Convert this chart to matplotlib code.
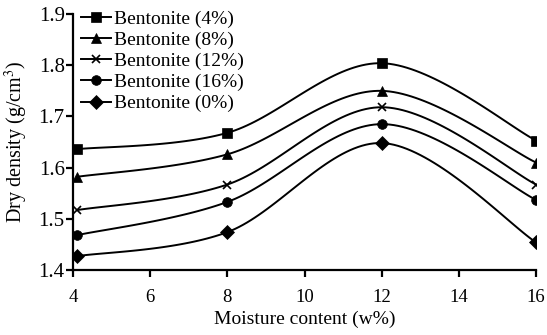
import numpy as np
import matplotlib
matplotlib.use('Agg')
import matplotlib.pyplot as plt

moisture = [4.1, 8, 12, 16]
labels = ['Bentonite (4%)', 'Bentonite (8%)', 'Bentonite (12%)',
          'Bentonite (16%)', 'Bentonite (0%)']
markers = ['s', '^', 'x', 'o', 'D']
density = [
    [1.636, 1.668, 1.804, 1.653],
    [1.582, 1.626, 1.750, 1.610],
    [1.517, 1.567, 1.718, 1.567],
    [1.468, 1.533, 1.685, 1.537],
    [1.427, 1.474, 1.648, 1.454],
]


def smooth(x, y, n=40):
    # Excel-style smoothed line: cubic Bezier with 1/6 tangent control points
    x = np.asarray(x, float)
    y = np.asarray(y, float)
    px = np.concatenate([[x[0]], x, [x[-1]]])
    py = np.concatenate([[y[0]], y, [y[-1]]])
    xs, ys = [], []
    t = np.linspace(0, 1, n)
    for i in range(len(x) - 1):
        p0 = np.array([px[i + 1], py[i + 1]])
        p3 = np.array([px[i + 2], py[i + 2]])
        c1 = p0 + (np.array([px[i + 2], py[i + 2]]) - np.array([px[i], py[i]])) / 6
        c2 = p3 - (np.array([px[i + 3], py[i + 3]]) - np.array([px[i + 1], py[i + 1]])) / 6
        b = ((1 - t) ** 3)[:, None] * p0 + (3 * (1 - t) ** 2 * t)[:, None] * c1 \
            + (3 * (1 - t) * t ** 2)[:, None] * c2 + (t ** 3)[:, None] * p3
        xs.append(b[:, 0])
        ys.append(b[:, 1])
    return np.concatenate(xs), np.concatenate(ys)


plt.rcParams['font.family'] = ['Liberation Serif', 'DejaVu Serif']
plt.rcParams['mathtext.fontset'] = 'stix'

fig = plt.figure(figsize=(5.47, 3.35), dpi=100)
ax = fig.add_axes([0.1335, 0.194, 0.98 - 0.1335, 0.958 - 0.194])

for vals, lab, m in zip(density, labels, markers):
    sx, sy = smooth(moisture, vals)
    ax.plot(sx, sy, color='black', lw=1.4)
    ms = 7 if m != 'x' else 6
    mew = 1.2 if m == 'x' else 0.5
    ax.plot(moisture, vals, linestyle='none', marker=m, color='black',
            markersize=ms, markeredgewidth=mew)
    ax.plot([], [], color='black', lw=1.4, marker=m, markersize=ms,
            markeredgewidth=mew, label=lab)

ax.set_xlim(4, 16)
ax.set_ylim(1.4, 1.9)
ax.set_xticks([4, 6, 8, 10, 12, 14, 16])
ax.set_yticks([1.4, 1.5, 1.6, 1.7, 1.8, 1.9])
ax.set_yticklabels(['1.4', '1.5', '1.6', '1.7', '1.8', '1.9'])
ax.spines['top'].set_visible(False)
ax.spines['right'].set_visible(False)
for s in ('left', 'bottom'):
    ax.spines[s].set_linewidth(1.6)
ax.tick_params(direction='out', length=5, width=1.6)
ax.tick_params(axis='x', labelsize=13.5, pad=9)
ax.tick_params(axis='y', labelsize=15, pad=1)
ax.set_xlabel('Moisture content (w%)', fontsize=14, labelpad=3)
ax.set_ylabel('Dry density (g/cm$^3$)', fontsize=14.5, labelpad=6)

fig.legend(loc='upper left', bbox_to_anchor=(0.148, 0.97), frameon=False,
           fontsize=14, handlelength=1.55, handletextpad=0.15,
           labelspacing=0.18, borderaxespad=0.0, borderpad=0.0)

fig.savefig('out.png', dpi=100)
